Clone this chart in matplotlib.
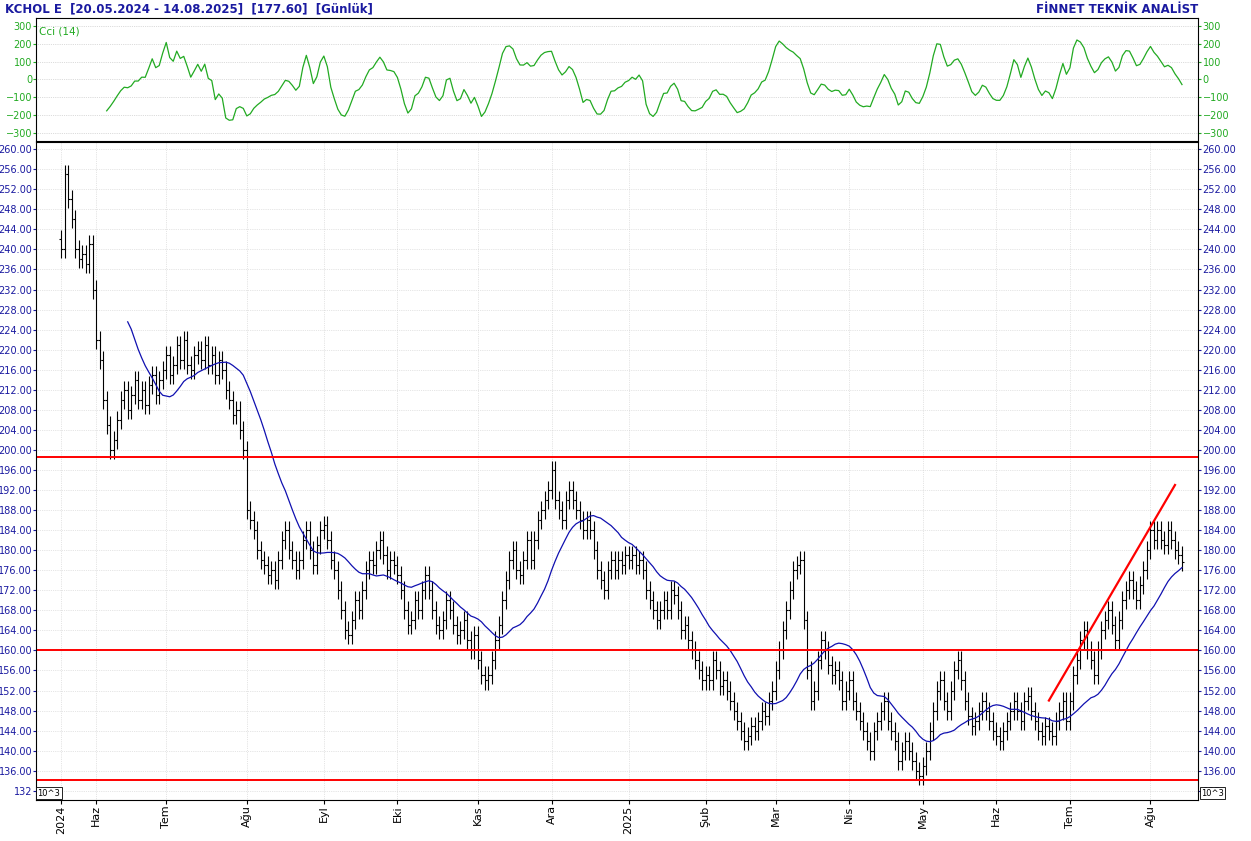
import numpy as np
import matplotlib
matplotlib.use("Agg")
import matplotlib.pyplot as plt

# approximate daily closes, one list per month
month_names = ["2024", "Haz", "Tem", "Ağu", "Eyl", "Eki", "Kas", "Ara", "2025",
               "Şub", "Mar", "Nis", "May", "Haz", "Tem", "Ağu"]
closes_by_month = [
    [240, 255, 250, 246, 240, 238, 239, 237, 241, 232],
    [222, 218, 210, 205, 200, 202, 206, 210, 212, 208, 211, 214, 210, 212, 209, 213, 215, 211, 214, 216],
    [219, 215, 217, 221, 218, 222, 217, 216, 219, 220, 218, 221, 217, 219, 215, 218, 216, 212, 210, 207, 208, 204, 200],
    [188, 186, 184, 180, 178, 177, 175, 176, 174, 178, 182, 184, 180, 178, 176, 178, 182, 184, 180, 177, 181, 184],
    [185, 182, 178, 176, 172, 168, 164, 163, 166, 170, 168, 172, 176, 178, 177, 180, 182, 179, 176, 178, 177],
    [175, 172, 168, 165, 166, 170, 168, 172, 175, 172, 168, 165, 164, 166, 170, 168, 165, 163, 164, 166, 162, 160, 163],
    [158, 155, 154, 155, 158, 162, 165, 170, 174, 178, 180, 176, 175, 178, 182, 178, 182, 186, 188, 190, 192],
    [196, 190, 188, 186, 190, 192, 190, 188, 186, 184, 186, 184, 180, 176, 174, 172, 176, 178, 176, 178, 177, 179],
    [178, 179, 177, 178, 176, 172, 170, 168, 166, 168, 170, 168, 172, 171, 168, 164, 165, 162, 160, 158, 156, 154],
    [155, 154, 158, 156, 153, 154, 152, 150, 148, 146, 144, 142, 143, 145, 144, 146, 148, 147, 150, 152],
    [156, 160, 164, 168, 172, 176, 177, 178, 166, 156, 150, 152, 158, 162, 160, 157, 155, 156, 154, 150, 152],
    [154, 150, 148, 146, 144, 142, 140, 144, 146, 148, 150, 146, 144, 142, 138, 140, 142, 140, 138, 136, 135],
    [137, 140, 144, 148, 152, 154, 150, 148, 152, 156, 158, 154, 150, 147, 145, 146, 148, 150, 148, 146, 144],
    [143, 142, 144, 146, 148, 150, 148, 146, 150, 151, 148, 146, 144, 143, 145, 144, 143, 146, 148, 150, 146],
    [150, 155, 158, 162, 164, 160, 158, 155, 160, 164, 166, 168, 165, 162, 166, 170, 172, 174, 172, 170, 173, 176, 180],
    [184, 182, 184, 182, 181, 184, 182, 180, 179, 177.6],
]
h_levels = [198.6, 160.0, 134.2]
trend_x = [282, 318]
trend_y = [150.0, 193.0]

close = np.array([c for m in closes_by_month for c in m], dtype=float)
opn = np.r_[close[0] + 2, close[:-1]]
high = np.maximum(opn, close) + 1.8
low = np.minimum(opn, close) - 1.8
x = np.arange(len(close))
month_starts = np.cumsum([0] + [len(m) for m in closes_by_month[:-1]])

ma = np.convolve(close, np.ones(20) / 20, mode="valid")
tp = (high + low + close) / 3
cci = np.full(len(tp), np.nan)
for i in range(13, len(tp)):
    w = tp[i - 13:i + 1]
    md = np.mean(np.abs(w - w.mean()))
    cci[i] = (tp[i] - w.mean()) / (0.015 * md)

fig = plt.figure(figsize=(12.51, 8.41), dpi=100)
ax1 = fig.add_axes([0.029, 0.832, 0.929, 0.147])
ax2 = fig.add_axes([0.029, 0.049, 0.929, 0.782], sharex=ax1)
blue = "#1a1aa0"

ax1.plot(x, cci, color="#22aa22", lw=0.9)
ax1.set_ylim(-345, 345)
ax1.set_yticks(range(-300, 301, 100))
ax1.grid(axis="y", ls=":", color="#bbbbbb", lw=0.5)
ax1.tick_params(labelsize=7, colors="#22aa22", right=True, labelright=True, length=2, pad=1)
ax1.tick_params(axis="x", labelbottom=False, length=0)
ax1.text(0.002, 0.93, "Cci (14)", transform=ax1.transAxes, color="#22aa22", fontsize=7.5, va="top")

ax2.vlines(x, low, high, color="black", lw=0.8)
ax2.hlines(opn, x - 0.5, x, color="black", lw=0.8)
ax2.hlines(close, x, x + 0.5, color="black", lw=0.8)
ax2.plot(x[19:], ma, color="#1010b0", lw=0.9)
for lv in h_levels:
    ax2.axhline(lv, color="red", lw=1.4)
ax2.plot(trend_x, trend_y, color="red", lw=1.6)
ax2.set_ylim(130.2, 261.4)
ax2.set_yticks(np.arange(132, 261, 4))
ax2.set_yticklabels([f"{v:.2f}" if v != 132 else "132" for v in np.arange(132, 261, 4)])
ax2.grid(ls=":", color="#cccccc", lw=0.5)
ax2.tick_params(labelsize=7, colors=blue, right=True, labelright=True, length=2, pad=1)
ax2.set_xlim(-7.1, 324.7)
ax2.set_xticks(month_starts)
ax2.set_xticklabels(month_names, rotation=90, fontsize=8, color="black")
ax2.tick_params(axis="x", colors="black", length=3)

fig.text(0.004, 0.997, "KCHOL E  [20.05.2024 - 14.08.2025]  [177.60]  [Günlük]",
         color=blue, fontsize=8.5, fontweight="bold", va="top")
fig.text(0.958, 0.997, "FİNNET TEKNİK ANALİST", color=blue, fontsize=8.5,
         fontweight="bold", va="top", ha="right")
for xf in (0.030, 0.960):
    fig.text(xf, 0.057, "10^3", fontsize=6, va="center",
             bbox=dict(fc="white", ec="black", lw=0.6, pad=1))

fig.savefig("out.png", dpi=100)
